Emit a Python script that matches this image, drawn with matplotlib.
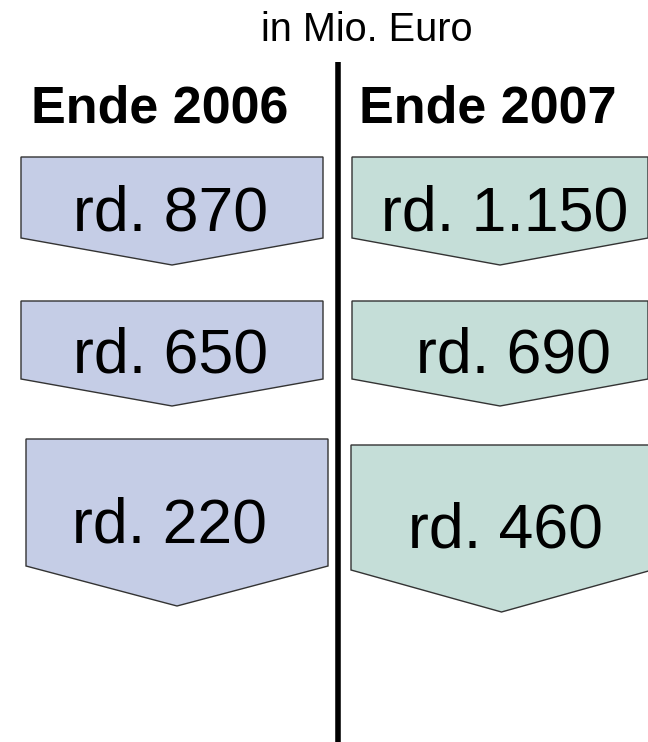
import matplotlib
matplotlib.use('Agg')
from matplotlib import pyplot as plt
from matplotlib.patches import Polygon

plt.rcParams['font.family'] = ['Liberation Sans', 'DejaVu Sans']

# data
unit = 'in Mio. Euro'
years = ['Ende 2006', 'Ende 2007']
values_2006 = ['rd. 870', 'rd. 650', 'rd. 220']
values_2007 = ['rd. 1.150', 'rd. 690', 'rd. 460']
colors = ['#c5cde6', '#c5ded8']

# layout in pixels (left, right, top, side bottom, tip)
boxes_2006 = [(21, 323, 157, 238, 265), (21, 323, 301, 379, 406), (26, 328, 439, 566, 606)]
boxes_2007 = [(352, 648, 157, 238, 265), (352, 648, 301, 379, 406), (351, 652, 445, 570, 612)]
text_x = [[171, 171, 170], [505, 513, 505]]
text_y = [[214, 356, 526], [214, 356, 531]]


def arrow_box(ax, l, r, t, b, tip, color):
    pts = [(l, t), (r, t), (r, b), ((l + r) / 2, tip), (l, b)]
    ax.add_patch(Polygon(pts, closed=True, facecolor=color,
                         edgecolor='#333333', linewidth=1.0))


fig = plt.figure(figsize=(6.48, 7.42), dpi=100)
ax = fig.add_axes([0, 0, 1, 1])
ax.set_xlim(0, 648)
ax.set_ylim(742, 0)
ax.axis('off')

ax.text(367, 30, unit, fontsize=28.5, ha='center', va='center')

ax.plot([338, 338], [62, 742], color='black', linewidth=4, solid_capstyle='butt')

ax.text(160, 109, years[0], fontsize=37.5, fontweight='bold', ha='center', va='center')
ax.text(488, 109, years[1], fontsize=37.5, fontweight='bold', ha='center', va='center')

for col, (boxes, vals) in enumerate([(boxes_2006, values_2006), (boxes_2007, values_2007)]):
    for i, (box, v) in enumerate(zip(boxes, vals)):
        arrow_box(ax, *box, colors[col])
        ax.text(text_x[col][i], text_y[col][i], v, fontsize=45,
                ha='center', va='center')

fig.savefig('out.png', dpi=100)
